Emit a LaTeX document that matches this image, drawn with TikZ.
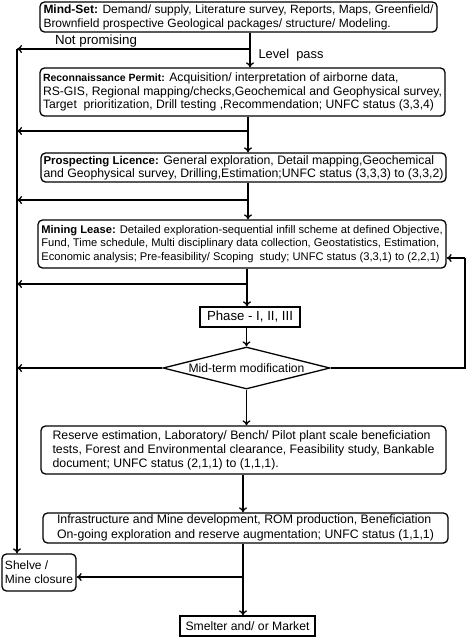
\documentclass[tikz,border=0pt]{standalone}
\usepackage{fontspec}
\setmainfont{Liberation Sans}
\usetikzlibrary{arrows.meta,shapes.geometric}
\newlength\fitw
\newcommand{\fitline}[3]{%
  \settowidth\fitw{\fontsize{10}{12}\selectfont #3}%
  \pgfmathsetmacro\fitsz{10*#1/\fitw}%
  \fontsize{\fitsz}{#2}\selectfont}
\newcommand{\lab}[2]{{\pgfmathsetmacro\labsz{\fitsz*#1}\fontsize{\labsz}{12}\selectfont\bfseries #2}}
\begin{document}
\begin{tikzpicture}[x=1pt,y=-1pt,
  box/.style={draw,line width=1.3pt,rounded corners=4.5pt,inner sep=1pt,align=left},
  sbox/.style={draw,line width=1.3pt,inner sep=1pt},
  arr/.style={line width=1.3pt,-{To[length=5pt,width=8pt]}},
  ln/.style={line width=1.3pt},
  lbl/.style={inner sep=0pt}]
\useasboundingbox (0,0) rectangle (470,638);
\node[box,minimum width=397pt,minimum height=30pt,
  font={\fitline{390}{14}{\textbf{Mind-Set:} Demand/ supply, Literature survey, Reports, Maps, Greenfield/}}] (mind) at (238.5,17)
  {\lab{1}{Mind-Set:} Demand/ supply, Literature survey, Reports, Maps, Greenfield/\\
   Brownfield prospective Geological packages/ structure/ Modeling.};
\node[box,minimum width=405pt,minimum height=48pt,
  font={\fitline{399}{13.7}{RS-GIS, Regional mapping/checks,Geochemical and Geophysical survey,}}] (recon) at (242.5,92)
  {\lab{0.86}{Reconnaissance Permit:} Acquisition/ interpretation of airborne data,\\
   RS-GIS, Regional mapping/checks,Geochemical and Geophysical survey,\\
   Target\ \ prioritization, Drill testing ,Recommendation; UNFC status (3,3,4)};
\node[box,minimum width=405pt,minimum height=29pt,
  font={\fitline{400}{13.3}{and Geophysical survey, Drilling,Estimation;UNFC status (3,3,3) to (3,3,2)}}] (prosp) at (243.5,167.5)
  {\lab{0.93}{Prospecting Licence:} General exploration, Detail mapping,Geochemical\\
   and Geophysical survey, Drilling,Estimation;UNFC status (3,3,3) to (3,3,2)};
\node[box,minimum width=408pt,minimum height=48pt,
  font={\fitline{398}{13.2}{Fund, Time schedule, Multi disciplinary data collection, Geostatistics, Estimation,}}] (mining) at (242,244)
  {\lab{1}{Mining Lease:} Detailed exploration-sequential infill scheme at defined Objective,\\
   Fund, Time schedule, Multi disciplinary data collection, Geostatistics, Estimation,\\
   Economic analysis; Pre-feasibility/ Scoping\ \ study; UNFC status (3,3,1) to (2,2,1)};
\node[sbox,minimum width=100pt,minimum height=20pt,font={\fitline{86}{14}{Phase - I, II, III}}] (phase) at (250,317)
  {Phase - I, II, III};
\node[draw,diamond,aspect=4,line width=1.3pt,inner sep=0pt,minimum width=167pt,minimum height=42pt,
  font={\fitline{116}{14}{Mid-term modification}}] (dia) at (246.5,368)
  {Mid-term modification};
\node[box,minimum width=405pt,minimum height=48pt,
  font={\fitline{378}{14}{Reserve estimation, Laboratory/ Bench/ Pilot plant scale beneficiation}}] (reserve) at (243.5,450)
  {Reserve estimation, Laboratory/ Bench/ Pilot plant scale beneficiation\\
   tests, Forest and Environmental clearance, Feasibility study, Bankable\\
   document; UNFC status (2,1,1) to (1,1,1).};
\node[box,minimum width=405pt,minimum height=30pt,
  font={\fitline{377}{14.5}{On-going exploration and reserve augmentation; UNFC status (1,1,1)}}] (infra) at (245.5,528)
  {Infrastructure and Mine development, ROM production, Beneficiation\\
   On-going exploration and reserve augmentation; UNFC status (1,1,1)};
\node[box,minimum width=74pt,minimum height=37pt,
  font={\fitline{68}{14}{Mine closure}}] (shelve) at (39,572.5)
  {Shelve /\\Mine closure};
\node[sbox,minimum width=135pt,minimum height=20pt,font={\fitline{124}{14}{Smelter and/ or Market}}] (smelter) at (247.5,626)
  {Smelter and/ or Market};

\coordinate (L0) at (17,49);
\coordinate (j1) at (250,49);
\coordinate (j2) at (248,131);
\coordinate (j3) at (248,200);
\coordinate (j4) at (247,284);
\coordinate (r1) at (465,258);
\coordinate (j5) at (243,577);

\draw[arr] (mind.south -| j1) -- (recon.north -| j1);
\draw[arr] (j1) -- (L0);
\node[lbl,font={\fitline{82}{14}{Not promising}}] (np) at (96,41) {Not promising};
\node[lbl,font={\fitline{65}{14}{Level\ \ pass}}] (lp) at (291,55) {Level\ \ pass};
\draw[arr] (recon.south -| j2) -- (prosp.north -| j2);
\draw[arr] (j2) -- (j2 -| L0);
\draw[arr] (prosp.south -| j3) -- (mining.north -| j3);
\draw[arr] (j3) -- (j3 -| L0);
\draw[arr] (mining.south -| j4) -- (phase.north -| j4);
\draw[arr] (j4) -- (j4 -| L0);
\draw[arr] (phase.south -| dia.north) -- (dia.north);
\draw[arr] (dia.west) -- (dia.west -| L0);
\draw[ln] (dia.east) -- (dia.east -| r1) -- (r1);
\draw[arr] (r1) -- (mining.east |- r1);
\draw[arr] (dia.south) -- (reserve.north -| dia.south);
\draw[arr] (reserve.south -| j5) -- (infra.north -| j5);
\draw[arr] (infra.south -| j5) -- (smelter.north -| j5);
\draw[arr] (j5) -- (shelve.east |- j5);
\draw[arr] (L0) -- (L0 |- shelve.north);
\end{tikzpicture}
\end{document}
